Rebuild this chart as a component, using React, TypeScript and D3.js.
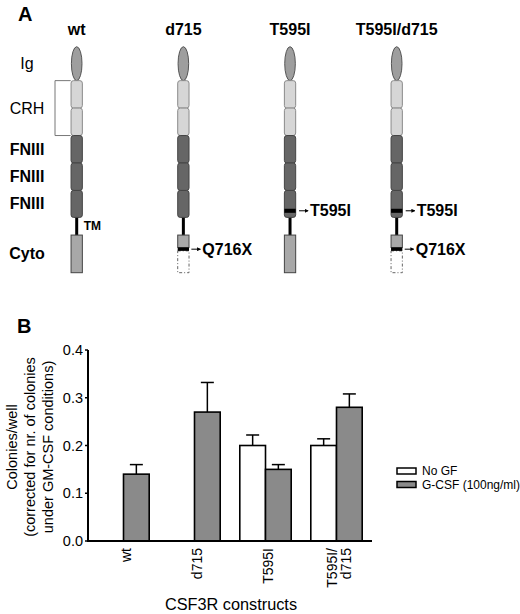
import React from "react";
import * as d3 from "d3";

// ---------- Panel A data ----------
const constructs = ["wt", "d715", "T595I", "T595I/d715"];
const domainKeys = ["Ig", "CRH1", "CRH2", "FN1", "FN2", "FN3", "TM", "Cyto"];
const domainSizes = [34, 27.5, 27.5, 27.5, 27.5, 27, 17.7, 37.7];
const sideLabels = ["Ig", "CRH", "FNIII", "FNIII", "FNIII", "Cyto"];
const sideLabelDomains = [["Ig"], ["CRH1", "CRH2"], ["FN1"], ["FN2"], ["FN3"], ["Cyto"]];
const sideLabelBold = [false, false, true, true, true, true];
const hasT595I = [false, false, true, true];
const hasQ716X = [false, true, false, true];
const t595iBand = [0.68, 0.83]; // fraction inside FN3
const q716xBand = [0.33, 0.42]; // fraction inside Cyto

// ---------- Panel B data ----------
const groups = ["wt", "d715", "T595I", "T595I/d715"];
const groupLabels = [["wt"], ["d715"], ["T595I"], ["T595I/", "d715"]];
const seriesKeys = ["noGF", "gcsf"];
const seriesNames = ["No GF", "G-CSF (100ng/ml)"];
const noGF = [0, 0, 0.2, 0.2];
const noGFErr = [0, 0, 0.022, 0.014];
const gcsf = [0.14, 0.27, 0.15, 0.28];
const gcsfErr = [0.02, 0.062, 0.01, 0.028];
const yTicks = [0, 0.1, 0.2, 0.3, 0.4];
const yTitleLines = ["Colonies/well", "(corrected for nr. of colonies", "under GM-CSF conditions)"];

const FONT = "'Liberation Sans', Arial, Helvetica, sans-serif";
const GRAY = "#8a8a8a";

export default function App() {
  // ---- Panel A scales ----
  const xA = d3.scalePoint<string>().domain(constructs).range([76.7, 396.7]);
  const cum = d3.cumsum(domainSizes);
  const total = cum[cum.length - 1];
  const yA = d3.scaleLinear().domain([0, total]).range([46.7, 272.7]);
  const seg = (k: string) => {
    const i = domainKeys.indexOf(k);
    const start = i === 0 ? 0 : cum[i - 1];
    return { y0: yA(start), y1: yA(cum[i]) };
  };
  const W = 11.3;

  // ---- Panel B scales ----
  const x0 = d3
    .scaleBand<string>()
    .domain(groups)
    .range([88, 372])
    .paddingInner(0.276)
    .paddingOuter(0.138);
  const x1 = d3.scaleBand<string>().domain(seriesKeys).range([0, x0.bandwidth()]);
  const y = d3.scaleLinear().domain([0, 0.4]).range([541, 350]);
  const fmt = d3.format(".1f");

  const seriesVals = [noGF, gcsf];
  const seriesErrs = [noGFErr, gcsfErr];
  const seriesFill = ["#ffffff", GRAY];

  return (
    <svg
      width={520}
      height={614}
      style={{ position: "absolute", left: 0, top: 0, background: "#fff" }}
      fontFamily={FONT}
    >
      <defs>
        <marker id="arr" viewBox="0 0 6 6" refX="5" refY="3" markerWidth="4" markerHeight="4" orient="auto">
          <path d="M0,0 L6,3 L0,6 z" fill="#000" />
        </marker>
      </defs>
      <rect x={0} y={0} width={520} height={614} fill="#fff" />

      {/* ================= Panel A ================= */}
      <text x={18} y={21} fontSize={20} fontWeight="bold">A</text>

      {constructs.map((c) => (
        <text key={c} x={xA(c)} y={35} fontSize={16} fontWeight="bold" textAnchor="middle">
          {c}
        </text>
      ))}

      {sideLabels.map((l, i) => {
        const ds = sideLabelDomains[i];
        const a = seg(ds[0]);
        const b = seg(ds[ds.length - 1]);
        return (
          <text
            key={i}
            x={27}
            y={(a.y0 + b.y1) / 2}
            fontSize={16}
            fontWeight={sideLabelBold[i] ? "bold" : "normal"}
            textAnchor="middle"
            dominantBaseline="central"
          >
            {l}
          </text>
        );
      })}

      {/* CRH bracket */}
      <path
        d={`M70.7,${seg("CRH1").y0} H55 V${seg("CRH2").y1} H70.7`}
        fill="none"
        stroke="#777"
        strokeWidth={1}
      />

      {constructs.map((c, ci) => {
        const cx = xA(c) as number;
        const ig = seg("Ig");
        const tm = seg("TM");
        const cy = seg("Cyto");
        const fn3 = seg("FN3");
        const cyH = cy.y1 - cy.y0;
        const fnH = fn3.y1 - fn3.y0;
        const tY = fn3.y0 + (fnH * (t595iBand[0] + t595iBand[1])) / 2;
        const qY = cy.y0 + (cyH * (q716xBand[0] + q716xBand[1])) / 2;
        return (
          <g key={c}>
            {/* TM */}
            <line x1={cx} x2={cx} y1={tm.y0 - 2} y2={tm.y1 + 1} stroke="#000" strokeWidth={3} />
            {/* Ig */}
            <ellipse
              cx={cx}
              cy={(ig.y0 + ig.y1) / 2}
              rx={5.3}
              ry={(ig.y1 - ig.y0) / 2}
              fill="#9e9e9e"
              stroke="#555"
              strokeWidth={1}
            />
            {/* CRH */}
            {["CRH1", "CRH2"].map((k) => {
              const s = seg(k);
              return (
                <rect key={k} x={cx - W / 2} y={s.y0} width={W} height={s.y1 - s.y0} rx={2.5}
                  fill="#d6d6d6" stroke="#8a8a8a" strokeWidth={1} />
              );
            })}
            {/* FNIII */}
            {["FN1", "FN2", "FN3"].map((k) => {
              const s = seg(k);
              return (
                <rect key={k} x={cx - W / 2} y={s.y0} width={W} height={s.y1 - s.y0} rx={2.5}
                  fill="#666" stroke="#444" strokeWidth={1} />
              );
            })}
            {hasT595I[ci] && (
              <g>
                <rect x={cx - W / 2} y={fn3.y0 + fnH * t595iBand[0]} width={W}
                  height={fnH * (t595iBand[1] - t595iBand[0])} fill="#000" />
                <line x1={cx + 9} x2={cx + 18} y1={tY} y2={tY}
                  stroke="#000" strokeWidth={1} markerEnd="url(#arr)" />
                <text x={cx + 20} y={tY} fontSize={16} fontWeight="bold" dominantBaseline="central">
                  T595I
                </text>
              </g>
            )}
            {/* Cyto */}
            {!hasQ716X[ci] ? (
              <rect x={cx - W / 2} y={cy.y0} width={W} height={cyH} fill="#a8a8a8" stroke="#444" strokeWidth={1} />
            ) : (
              <g>
                <rect x={cx - W / 2} y={cy.y0 + cyH * q716xBand[1]} width={W}
                  height={cyH * (1 - q716xBand[1])} fill="none" stroke="#666" strokeWidth={1}
                  strokeDasharray="3,2,1,2" />
                <rect x={cx - W / 2} y={cy.y0} width={W} height={cyH * q716xBand[0]}
                  fill="#a8a8a8" stroke="#444" strokeWidth={1} />
                <rect x={cx - W / 2} y={cy.y0 + cyH * q716xBand[0]} width={W}
                  height={cyH * (q716xBand[1] - q716xBand[0])} fill="#000" />
                <line x1={cx + 8} x2={cx + 17} y1={qY} y2={qY}
                  stroke="#000" strokeWidth={1} markerEnd="url(#arr)" />
                <text x={cx + 19} y={qY} fontSize={16} fontWeight="bold" dominantBaseline="central">
                  Q716X
                </text>
              </g>
            )}
            {ci === 0 && (
              <text x={cx + 7} y={(tm.y0 + tm.y1) / 2} fontSize={12} fontWeight="bold"
                dominantBaseline="central">TM</text>
            )}
          </g>
        );
      })}

      {/* ================= Panel B ================= */}
      <text x={17} y={333} fontSize={20} fontWeight="bold">B</text>

      {/* Y axis title */}
      {yTitleLines.map((t, i) => (
        <text
          key={i}
          transform={`translate(${11.5 + i * 18.3},${447}) rotate(-90)`}
          fontSize={14.5}
          textAnchor="middle"
          dominantBaseline="central"
        >
          {t}
        </text>
      ))}

      {/* Y axis */}
      <line x1={88} x2={88} y1={y(0.4)} y2={y(0) + 1} stroke="#000" strokeWidth={2} />
      {yTicks.map((t) => (
        <g key={t}>
          <line x1={85} x2={88} y1={y(t)} y2={y(t)} stroke="#000" strokeWidth={1.5} />
          <text x={83} y={y(t)} fontSize={14.5} textAnchor="end" dominantBaseline="central">
            {fmt(t)}
          </text>
        </g>
      ))}

      {/* Bars */}
      {groups.map((g, gi) => (
        <g key={g} transform={`translate(${x0(g)},0)`}>
          {seriesKeys.map((s, si) => {
            const v = seriesVals[si][gi];
            if (!v) return null;
            const e = seriesErrs[si][gi];
            const bx = x1(s) as number;
            const bw = x1.bandwidth();
            const mx = bx + bw / 2;
            return (
              <g key={s}>
                <line x1={mx} x2={mx} y1={y(v)} y2={y(v + e)} stroke="#000" strokeWidth={1.5} />
                <line x1={mx - 6.5} x2={mx + 6.5} y1={y(v + e)} y2={y(v + e)} stroke="#000" strokeWidth={1.5} />
                <rect x={bx} y={y(v)} width={bw} height={y(0) - y(v)} fill={seriesFill[si]}
                  stroke="#000" strokeWidth={1.6} />
              </g>
            );
          })}
        </g>
      ))}

      {/* X axis */}
      <line x1={87} x2={372} y1={y(0)} y2={y(0)} stroke="#000" strokeWidth={2} />
      {groups.map((g, gi) => {
        const c = (x0(g) as number) + x0.bandwidth() / 2 + 2;
        const lines = groupLabels[gi];
        return lines.map((l, li) => (
          <text
            key={g + li}
            transform={`translate(${c + (li - (lines.length - 1) / 2) * 14},548) rotate(-90)`}
            fontSize={14}
            textAnchor="end"
            dominantBaseline="central"
          >
            {l}
          </text>
        ));
      })}

      <text x={231} y={610} fontSize={16.3} textAnchor="middle">CSF3R constructs</text>

      {/* Legend */}
      {seriesNames.map((n, i) => (
        <g key={n}>
          <rect x={397} y={468 + i * 13.5} width={19} height={6} fill={seriesFill[i]} stroke="#000" strokeWidth={1.5} />
          <text x={422} y={471 + i * 13.5} fontSize={12} dominantBaseline="central">{n}</text>
        </g>
      ))}
    </svg>
  );
}
